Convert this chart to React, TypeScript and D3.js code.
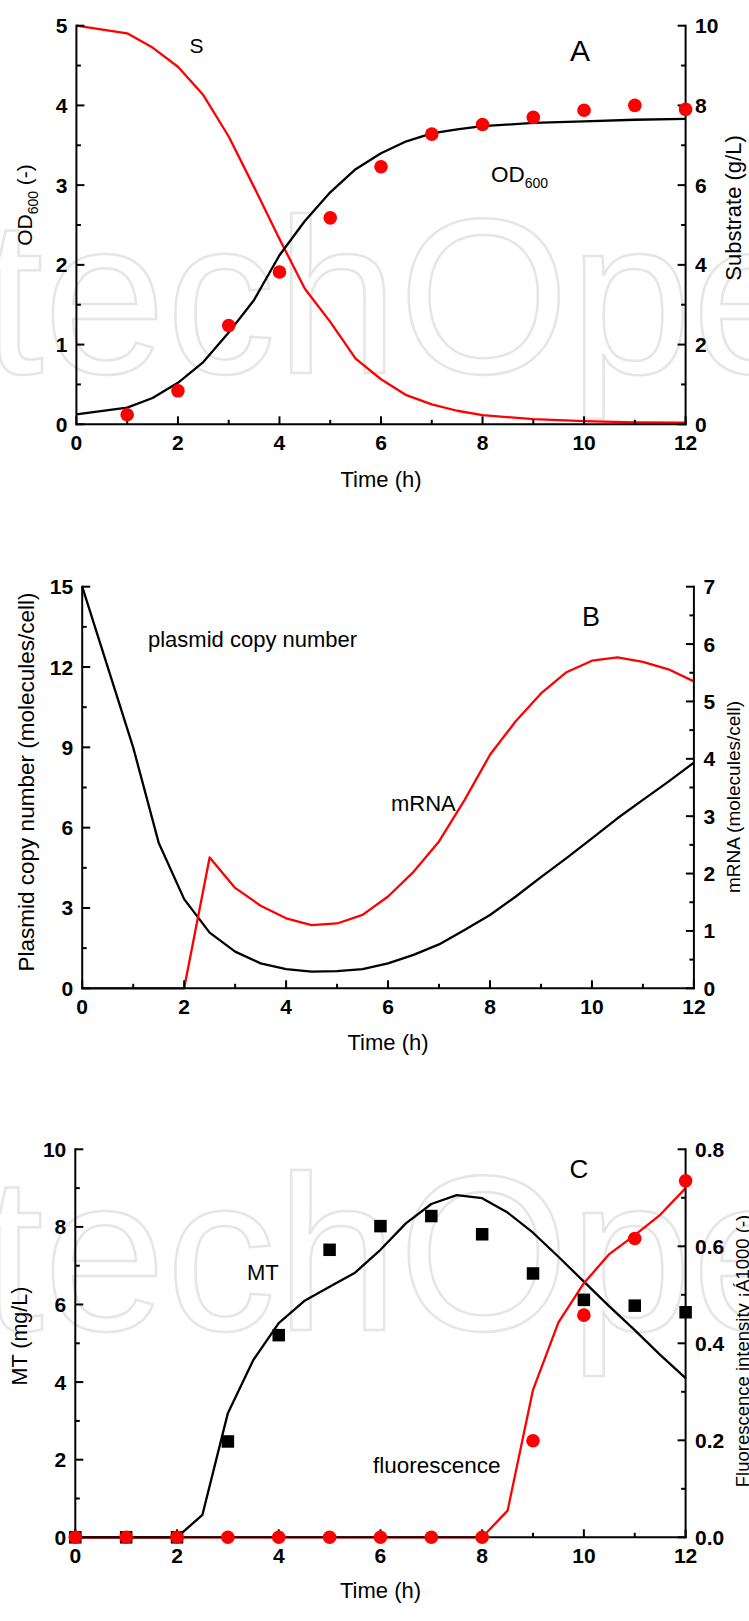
import React from 'react';
import * as d3 from 'd3';

const W = 749;
const H = 1621;
const FONT = '"Liberation Sans", Arial, Helvetica, sans-serif';
const RED = '#ff0000';

// ---------- shared x ticks ----------
const X_TICKS = [0, 2, 4, 6, 8, 10, 12];
const X_MINOR = [1, 3, 5, 7, 9, 11];

// ---------- Panel A ----------
const A_OBS_T = [1, 2, 3, 4, 5, 6, 7, 8, 9, 10, 11, 12];
const A_OD_OBS = [0.12, 0.42, 1.24, 1.91, 2.59, 3.23, 3.64, 3.76, 3.85, 3.94, 4.0, 3.95];
const A_MODEL_T = [0, 1, 1.5, 2, 2.5, 3, 3.5, 4, 4.5, 5, 5.5, 6, 6.5, 7, 7.5, 8, 9, 10, 11, 12];
const A_OD_MODEL = [0.125, 0.21, 0.33, 0.52, 0.78, 1.15, 1.56, 2.12, 2.55, 2.91, 3.2, 3.4, 3.55, 3.65, 3.7, 3.74, 3.78, 3.8, 3.82, 3.83];
const A_S_MODEL = [10.0, 9.81, 9.45, 8.97, 8.26, 7.22, 5.95, 4.65, 3.4, 2.57, 1.65, 1.13, 0.73, 0.5, 0.34, 0.23, 0.13, 0.08, 0.05, 0.04];
const A_LEFT_TICKS = [0, 1, 2, 3, 4, 5];
const A_LEFT_MINOR = [0.5, 1.5, 2.5, 3.5, 4.5];
const A_RIGHT_TICKS = [0, 2, 4, 6, 8, 10];
const A_RIGHT_MINOR = [1, 3, 5, 7, 9];

// ---------- Panel B ----------
const B_PLASMID_T = [0, 1, 1.5, 2, 2.5, 3, 3.5, 4, 4.5, 5, 5.5, 6, 6.5, 7, 7.5, 8, 8.5, 9, 9.5, 10, 10.5, 11, 11.5, 12];
const B_PLASMID = [15.0, 9.0, 5.44, 3.33, 2.08, 1.37, 0.93, 0.72, 0.62, 0.64, 0.72, 0.93, 1.25, 1.64, 2.18, 2.74, 3.42, 4.15, 4.86, 5.6, 6.35, 7.04, 7.72, 8.43];
const B_MRNA_T = [0, 2, 2.5, 3, 3.5, 4, 4.5, 5, 5.5, 6, 6.5, 7, 7.5, 8, 8.5, 9, 9.5, 10, 10.5, 11, 11.5, 12];
const B_MRNA = [0, 0, 2.28, 1.75, 1.44, 1.22, 1.1, 1.13, 1.28, 1.6, 2.03, 2.56, 3.28, 4.07, 4.65, 5.14, 5.51, 5.71, 5.77, 5.69, 5.56, 5.35];
const B_LEFT_TICKS = [0, 3, 6, 9, 12, 15];
const B_LEFT_MINOR = [1.5, 4.5, 7.5, 10.5, 13.5];
const B_RIGHT_TICKS = [0, 1, 2, 3, 4, 5, 6, 7];
const B_RIGHT_MINOR = [0.5, 1.5, 2.5, 3.5, 4.5, 5.5, 6.5];

// ---------- Panel C ----------
const C_OBS_T = [0, 1, 2, 3, 4, 5, 6, 7, 8, 9, 10, 11, 12];
const C_MT_OBS = [0, 0, 0, 2.47, 5.21, 7.41, 8.02, 8.28, 7.81, 6.8, 6.12, 5.97, 5.8];
const C_FL_OBS = [0, 0, 0, 0, 0, 0, 0, 0, 0, 0.199, 0.458, 0.616, 0.735];
const C_MT_MODEL_T = [0, 2, 2.5, 3, 3.5, 4, 4.5, 5, 5.5, 6, 6.5, 7, 7.5, 8, 8.5, 9, 9.5, 10, 10.5, 11, 11.5, 12];
const C_MT_MODEL = [0, 0, 0.58, 3.2, 4.57, 5.52, 6.09, 6.46, 6.82, 7.41, 8.09, 8.59, 8.82, 8.74, 8.37, 7.85, 7.23, 6.59, 5.95, 5.34, 4.7, 4.1];
const C_FL_MODEL_T = [0, 8, 8.5, 9, 9.5, 10, 10.5, 11, 11.5, 12];
const C_FL_MODEL = [0, 0, 0.055, 0.304, 0.443, 0.524, 0.584, 0.623, 0.665, 0.72];
const C_LEFT_TICKS = [0, 2, 4, 6, 8, 10];
const C_LEFT_MINOR = [1, 3, 5, 7, 9];
const C_RIGHT_TICKS = [0, 0.2, 0.4, 0.6, 0.8];
const C_RIGHT_MINOR = [0.1, 0.3, 0.5, 0.7];

type Scale = d3.ScaleLinear<number, number>;

const zip = (xs: number[], ys: number[]) => xs.map((x, i) => [x, ys[i]] as [number, number]);

function Axes(props: {
  x: Scale; yl: Scale; yr: Scale;
  lTicks: number[]; lMinor: number[]; rTicks: number[]; rMinor: number[];
  rFmt?: (v: number) => string;
}) {
  const { x, yl, yr, lTicks, lMinor, rTicks, rMinor } = props;
  const rFmt = props.rFmt || ((v: number) => String(v));
  const [x0, x1] = x.range();
  const [yb, yt] = yl.range();
  const MAJ = 8, MIN = 4.5, FS = 21;
  const sw = 2;
  return (
    <g stroke="#000" strokeWidth={sw} fill="none">
      <line x1={x0} y1={yb} x2={x0} y2={yt} strokeLinecap="square" />
      <line x1={x0} y1={yb} x2={x1} y2={yb} strokeLinecap="square" />
      <line x1={x1} y1={yb} x2={x1} y2={yt} strokeLinecap="square" />
      {X_TICKS.map((t) => <line key={'xt' + t} x1={x(t)} x2={x(t)} y1={yb} y2={yb - MAJ} />)}
      {X_MINOR.map((t) => <line key={'xm' + t} x1={x(t)} x2={x(t)} y1={yb} y2={yb - MIN} />)}
      {lTicks.map((t) => <line key={'lt' + t} x1={x0} x2={x0 + MAJ} y1={yl(t)} y2={yl(t)} />)}
      {lMinor.map((t) => <line key={'lm' + t} x1={x0} x2={x0 + MIN} y1={yl(t)} y2={yl(t)} />)}
      {rTicks.map((t) => <line key={'rt' + t} x1={x1} x2={x1 - MAJ} y1={yr(t)} y2={yr(t)} />)}
      {rMinor.map((t) => <line key={'rm' + t} x1={x1} x2={x1 - MIN} y1={yr(t)} y2={yr(t)} />)}
      <g stroke="none" fill="#000" fontFamily={FONT} fontWeight="bold" fontSize={FS}>
        {X_TICKS.map((t) => (
          <text key={'xl' + t} x={x(t)} y={yb + 18 + 7.5} textAnchor="middle">{t}</text>
        ))}
        {lTicks.map((t) => (
          <text key={'ll' + t} x={x0 - 9} y={yl(t) + 7.5} textAnchor="end">{t}</text>
        ))}
        {rTicks.map((t) => (
          <text key={'rl' + t} x={x1 + 9.5} y={yr(t) + 7.5} textAnchor="start">{rFmt(t)}</text>
        ))}
      </g>
    </g>
  );
}

function Watermark({ baseline }: { baseline: number }) {
  return (
    <text x={-201} y={baseline} fontFamily={FONT} fontSize={220} fill="none" stroke="#e6e6e6" strokeWidth={2.5}>
      IntechOpen
    </text>
  );
}

function Circles({ x, y, ts, vs }: { x: Scale; y: Scale; ts: number[]; vs: number[] }) {
  return (
    <g fill={RED}>
      {ts.map((t, i) => <circle key={i} cx={x(t)} cy={y(vs[i])} r={6.8} />)}
    </g>
  );
}

function Squares({ x, y, ts, vs }: { x: Scale; y: Scale; ts: number[]; vs: number[] }) {
  const s = 12.5;
  return (
    <g fill="#000">
      {ts.map((t, i) => <rect key={i} x={x(t) - s / 2} y={y(vs[i]) - s / 2} width={s} height={s} />)}
    </g>
  );
}

function Path({ x, y, ts, vs, color }: { x: Scale; y: Scale; ts: number[]; vs: number[]; color: string }) {
  const gen = d3.line<[number, number]>().x((d) => x(d[0])).y((d) => y(d[1]));
  return <path d={gen(zip(ts, vs)) || ''} fill="none" stroke={color} strokeWidth={2.3} strokeLinejoin="round" />;
}

function PanelA() {
  const x = d3.scaleLinear().domain([0, 12]).range([76.4, 685.6]);
  const yl = d3.scaleLinear().domain([0, 5]).range([424.3, 25.7]);
  const yr = d3.scaleLinear().domain([0, 10]).range([424.3, 25.7]);
  return (
    <g>
      <Watermark baseline={373} />
      <Path x={x} y={yr} ts={A_MODEL_T} vs={A_S_MODEL} color={RED} />
      <Path x={x} y={yl} ts={A_MODEL_T} vs={A_OD_MODEL} color="#000" />
      <Axes x={x} yl={yl} yr={yr} lTicks={A_LEFT_TICKS} lMinor={A_LEFT_MINOR} rTicks={A_RIGHT_TICKS} rMinor={A_RIGHT_MINOR} />
      <Circles x={x} y={yl} ts={A_OBS_T} vs={A_OD_OBS} />
      <g fontFamily={FONT} fill="#000">
        <text x={196.5} y={53} fontSize={21} textAnchor="middle">S</text>
        <text x={580} y={61} fontSize={30} textAnchor="middle">A</text>
        <text x={491} y={182} fontSize={22.5}>OD<tspan fontSize={14} dy={6}>600</tspan></text>
        <text x={381} y={486.5} fontSize={22} textAnchor="middle">Time (h)</text>
        <text transform="translate(31.5,205) rotate(-90)" fontSize={21} textAnchor="middle">
          OD<tspan fontSize={14} dy={6}>600</tspan><tspan dy={-6}> (-)</tspan>
        </text>
        <text transform="translate(741,208) rotate(-90)" fontSize={22} textAnchor="middle">Substrate (g/L)</text>
      </g>
    </g>
  );
}

function PanelB() {
  const x = d3.scaleLinear().domain([0, 12]).range([82.2, 693.9]);
  const yl = d3.scaleLinear().domain([0, 15]).range([988.3, 586.7]);
  const yr = d3.scaleLinear().domain([0, 7]).range([988.3, 586.7]);
  return (
    <g>
      <Path x={x} y={yl} ts={B_PLASMID_T} vs={B_PLASMID} color="#000" />
      <Path x={x} y={yr} ts={B_MRNA_T} vs={B_MRNA} color={RED} />
      <Axes x={x} yl={yl} yr={yr} lTicks={B_LEFT_TICKS} lMinor={B_LEFT_MINOR} rTicks={B_RIGHT_TICKS} rMinor={B_RIGHT_MINOR} />
      <g fontFamily={FONT} fill="#000">
        <text x={591} y={626} fontSize={27} textAnchor="middle">B</text>
        <text x={148} y={647} fontSize={22}>plasmid copy number</text>
        <text x={391} y={811} fontSize={22}>mRNA</text>
        <text x={388} y={1050} fontSize={22} textAnchor="middle">Time (h)</text>
        <text transform="translate(34,782) rotate(-90)" fontSize={22.5} textAnchor="middle">Plasmid copy number (molecules/cell)</text>
        <text transform="translate(739.5,797) rotate(-90)" fontSize={19} textAnchor="middle">mRNA (molecules/cell)</text>
      </g>
    </g>
  );
}

function PanelC() {
  const x = d3.scaleLinear().domain([0, 12]).range([75.3, 685.6]);
  const yl = d3.scaleLinear().domain([0, 10]).range([1537.3, 1149.3]);
  const yr = d3.scaleLinear().domain([0, 0.8]).range([1537.3, 1149.3]);
  return (
    <g>
      <Watermark baseline={1330} />
      <Path x={x} y={yl} ts={C_MT_MODEL_T} vs={C_MT_MODEL} color="#000" />
      <Path x={x} y={yr} ts={C_FL_MODEL_T} vs={C_FL_MODEL} color={RED} />
      <Axes x={x} yl={yl} yr={yr} lTicks={C_LEFT_TICKS} lMinor={C_LEFT_MINOR} rTicks={C_RIGHT_TICKS} rMinor={C_RIGHT_MINOR}
        rFmt={(v) => v.toFixed(1)} />
      <Squares x={x} y={yl} ts={C_OBS_T} vs={C_MT_OBS} />
      <Circles x={x} y={yr} ts={C_OBS_T} vs={C_FL_OBS} />
      <g fontFamily={FONT} fill="#000">
        <text x={579} y={1178} fontSize={26} textAnchor="middle">C</text>
        <text x={247} y={1280} fontSize={22}>MT</text>
        <text x={373} y={1473} fontSize={22.5}>fluorescence</text>
        <text x={380.5} y={1597.5} fontSize={22} textAnchor="middle">Time (h)</text>
        <text transform="translate(26.5,1336) rotate(-90)" fontSize={21.5} textAnchor="middle">MT (mg/L)</text>
        <text transform="translate(748.5,1351) rotate(-90)" fontSize={18.5} textAnchor="middle">Fluorescence intensity ¡Á1000 (-)</text>
      </g>
    </g>
  );
}

export default function App() {
  return (
    <svg width={W} height={H} viewBox={`0 0 ${W} ${H}`}
      style={{ position: 'absolute', left: 0, top: 0, display: 'block', background: '#fff' }}>
      <rect x={0} y={0} width={W} height={H} fill="#fff" />
      <PanelA />
      <PanelB />
      <PanelC />
    </svg>
  );
}
